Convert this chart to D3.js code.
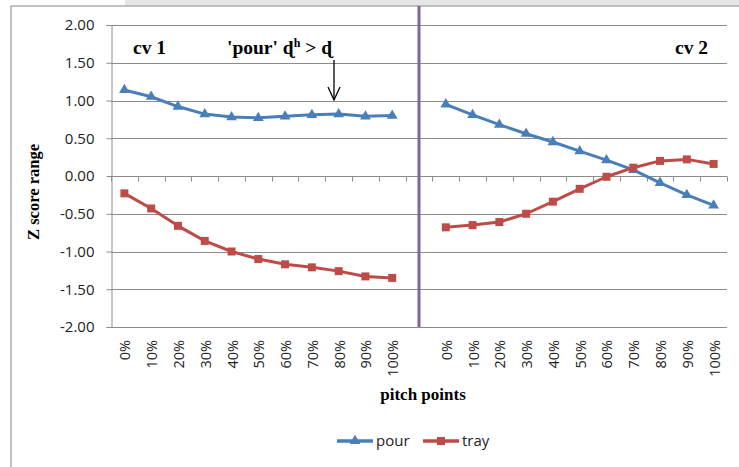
<!DOCTYPE html>
<html>
<head>
<meta charset="utf-8">
<script src="https://cdn.jsdelivr.net/npm/d3@7"></script>
<style>
  html, body { margin: 0; padding: 0; background: #fff; }
  svg { display: block; }
</style>
</head>
<body>
<svg id="chart" width="739" height="467"></svg>
<script>
// pitch points along each CV, in percent of duration
const pitchLabels = ["0%", "10%", "20%", "30%", "40%", "50%", "60%", "70%", "80%", "90%", "100%"];
// z-scored pitch for 'pour' and 'tray', cv 1 then cv 2
const pourCv1 = [1.14, 1.05, 0.92, 0.82, 0.78, 0.77, 0.79, 0.81, 0.82, 0.79, 0.80];
const trayCv1 = [-0.23, -0.43, -0.66, -0.86, -1.00, -1.10, -1.17, -1.21, -1.26, -1.33, -1.35];
const pourCv2 = [0.95, 0.81, 0.68, 0.56, 0.45, 0.33, 0.21, 0.08, -0.09, -0.25, -0.39];
const trayCv2 = [-0.68, -0.65, -0.61, -0.50, -0.34, -0.17, -0.01, 0.11, 0.20, 0.22, 0.16];
const yTicks = [2, 1.5, 1, 0.5, 0, -0.5, -1, -1.5, -2];
const seriesNames = ["pour", "tray"];

const svg = d3.select("#chart");
const W = 739, H = 467;

// category slots: cv 1 points, an empty separator slot, cv 2 points
const keys = [
  ...pitchLabels.map(p => "cv1|" + p),
  "sep",
  ...pitchLabels.map(p => "cv2|" + p)
];

const x = d3.scaleBand().domain(keys).range([111, 727]).padding(0);
const y = d3.scaleLinear().domain([-2, 2]).range([327, 25]);
const cx = k => x(k) + x.bandwidth() / 2;

const colors = { pour: "#4A7EBB", tray: "#BE4B48" };
const gridColor = "#8c8c8c";
const sans = "'Open Sans', 'Liberation Sans', sans-serif";
const serif = "'Liberation Serif', 'DejaVu Serif', serif";

// page backdrop and chart frame
svg.append("rect").attr("x", 125).attr("y", 0).attr("width", W - 125).attr("height", 6).attr("fill", "#e6e6e6");
svg.append("rect").attr("x", 11).attr("y", 6).attr("width", W).attr("height", H)
  .attr("fill", "#fff").attr("stroke", "#9a9a9a").attr("stroke-width", 1.2);

// horizontal gridlines
svg.append("g").selectAll("line").data(yTicks).join("line")
  .attr("x1", 111).attr("x2", 727)
  .attr("y1", d => Math.round(y(d)) + 0.5).attr("y2", d => Math.round(y(d)) + 0.5)
  .attr("stroke", gridColor).attr("stroke-width", 1);

// y axis
const yAxis = d3.axisLeft(y).tickValues(yTicks).tickFormat(d => d.toFixed(2)).tickSize(5).tickPadding(12);
const gy = svg.append("g").attr("transform", "translate(111.5,0)").call(yAxis);
gy.select(".domain").attr("stroke", gridColor);
gy.selectAll(".tick line").attr("stroke", gridColor);
gy.selectAll(".tick text")
  .attr("font-family", sans).attr("font-size", 15).attr("fill", "#222");

// x axis on the zero line, ticks between categories
const y0 = Math.round(y(0)) + 0.5;
svg.append("g").selectAll("line").data(d3.range(keys.length + 1)).join("line")
  .attr("x1", i => Math.round(111 + i * x.step()) + 0.5)
  .attr("x2", i => Math.round(111 + i * x.step()) + 0.5)
  .attr("y1", y0).attr("y2", y0 + 5)
  .attr("stroke", gridColor);

// category labels, rotated, below the plot
svg.append("g").selectAll("text").data(keys.filter(k => k !== "sep")).join("text")
  .attr("transform", k => `translate(${cx(k) + 6},340) rotate(-90)`)
  .attr("text-anchor", "end")
  .attr("font-family", sans).attr("font-size", 14.5).attr("fill", "#222")
  .text(k => k.split("|")[1]);

// separator between cv 1 and cv 2
svg.append("line")
  .attr("x1", cx("sep")).attr("x2", cx("sep"))
  .attr("y1", 6).attr("y2", 327)
  .attr("stroke", "#8064A2").attr("stroke-width", 3);

// series
const series = [
  { name: "pour", parts: [pourCv1, pourCv2] },
  { name: "tray", parts: [trayCv1, trayCv2] }
];
const line = d3.line().x(d => d.x).y(d => d.y);
const triangle = d3.symbol().type(d3.symbolTriangle).size(50);
const square = d3.symbol().type(d3.symbolSquare).size(64);

series.forEach(s => {
  s.parts.forEach((vals, pi) => {
    const prefix = pi === 0 ? "cv1|" : "cv2|";
    const pts = vals.map((v, i) => ({ x: cx(prefix + pitchLabels[i]), y: y(v) }));
    svg.append("path").datum(pts)
      .attr("d", line).attr("fill", "none")
      .attr("stroke", colors[s.name]).attr("stroke-width", 3)
      .attr("stroke-linejoin", "round");
    svg.append("g").selectAll("path").data(pts).join("path")
      .attr("transform", d => `translate(${d.x},${d.y})`)
      .attr("d", s.name === "pour" ? triangle : square)
      .attr("fill", colors[s.name]);
  });
});

// annotations
svg.append("text").attr("x", 133).attr("y", 54)
  .attr("font-family", serif).attr("font-weight", "bold").attr("font-size", 19.5).text("cv 1");
svg.append("text").attr("x", 675).attr("y", 54)
  .attr("font-family", serif).attr("font-weight", "bold").attr("font-size", 19.5).text("cv 2");
const ann = svg.append("text").attr("x", 227).attr("y", 54)
  .attr("font-family", serif).attr("font-weight", "bold").attr("font-size", 19.5);
ann.append("tspan").text("'pour' ɖ");
ann.append("tspan").attr("font-size", 12).attr("dy", -7).text("h");
ann.append("tspan").attr("dy", 7).text(" > ɖ");

// arrow pointing at the 80% point of 'pour' cv 1
const ax = 334;
svg.append("line").attr("x1", ax).attr("x2", ax).attr("y1", 60).attr("y2", 100)
  .attr("stroke", "#000").attr("stroke-width", 1.3);
svg.append("path").attr("d", `M${ax - 6},87 L${ax},100 L${ax + 6},87`)
  .attr("fill", "none").attr("stroke", "#000").attr("stroke-width", 1.3);

// axis titles
svg.append("text").attr("x", 423).attr("y", 400).attr("text-anchor", "middle")
  .attr("font-family", serif).attr("font-weight", "bold").attr("font-size", 17).text("pitch points");
svg.append("text").attr("transform", "translate(39,192) rotate(-90)").attr("text-anchor", "middle")
  .attr("font-family", serif).attr("font-weight", "bold").attr("font-size", 16.5).text("Z score range");

// legend
const legend = svg.append("g").attr("transform", "translate(337,441)");
const legX = [0, 86];
seriesNames.forEach((n, i) => {
  const g = legend.append("g").attr("transform", `translate(${legX[i]},0)`);
  g.append("line").attr("x1", 0).attr("x2", 36).attr("y1", 0).attr("y2", 0)
    .attr("stroke", colors[n]).attr("stroke-width", 3.5);
  g.append("path").attr("transform", "translate(18,0)")
    .attr("d", (n === "pour" ? triangle : square)()).attr("fill", colors[n]);
  g.append("text").attr("x", 39).attr("y", 5)
    .attr("font-family", sans).attr("font-size", 15).attr("fill", "#222").text(n);
});
</script>
</body>
</html>
